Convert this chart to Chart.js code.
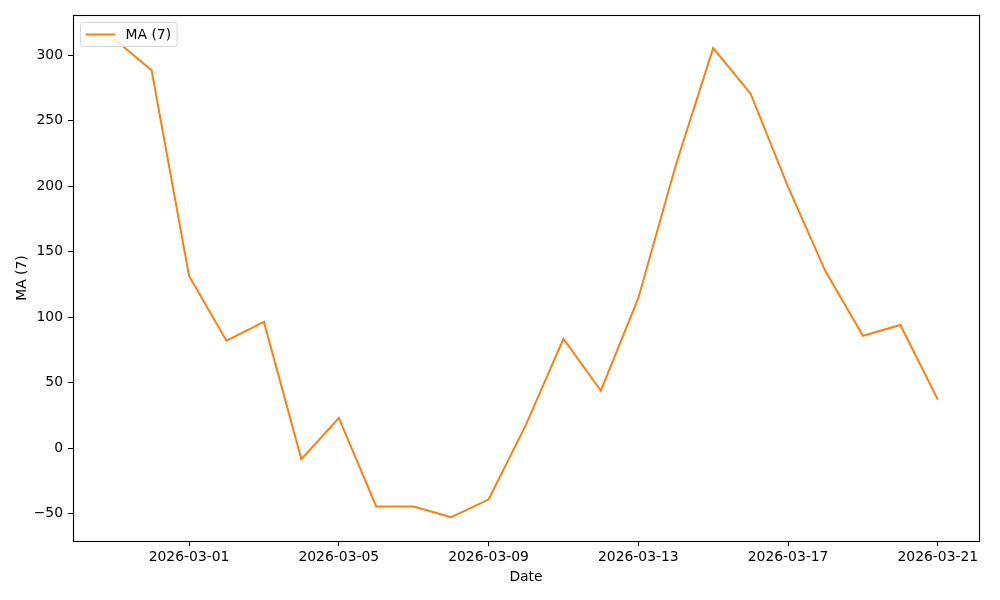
<!DOCTYPE html>
<html>
<head>
<meta charset="utf-8">
<script src="https://cdn.jsdelivr.net/npm/chart.js@4.4.1/dist/chart.umd.min.js"></script>
<style>
  html, body { margin: 0; padding: 0; background: #fff; }
  canvas { display: block; }
</style>
</head>
<body>
<canvas id="c" width="1000" height="600"></canvas>
<script>
const dates = [
  '2026-02-27','2026-02-28','2026-03-01','2026-03-02','2026-03-03','2026-03-04',
  '2026-03-05','2026-03-06','2026-03-07','2026-03-08','2026-03-09','2026-03-10',
  '2026-03-11','2026-03-12','2026-03-13','2026-03-14','2026-03-15','2026-03-16',
  '2026-03-17','2026-03-18','2026-03-19','2026-03-20','2026-03-21'
];
const maValues = [
  312.5, 288.5, 131.5, 82, 96.4, -8.5,
  23, -44.6, -44.6, -52.7, -39.3, 17.9,
  83.5, 43.8, 114.5, 216, 305.5, 270.7,
  199.5, 135, 85.8, 94, 37
];
const xTickLabels = ['2026-03-01','2026-03-05','2026-03-09','2026-03-13','2026-03-17','2026-03-21'];
const yTickValues = [-50, 0, 50, 100, 150, 200, 250, 300];
const seriesLabel = 'MA (7)';
const xTitle = 'Date';
const yTitle = 'MA (7)';

const DAY = 86400000;
const base = Date.parse(dates[0] + 'T00:00:00Z');
const dayIndex = d => Math.round((Date.parse(d + 'T00:00:00Z') - base) / DAY);
const points = dates.map((d, i) => ({ x: dayIndex(d), y: maValues[i] }));
const span = dayIndex(dates[dates.length - 1]);
const xMargin = span * 0.05;
const yMinV = Math.min(...maValues), yMaxV = Math.max(...maValues);
const yMargin = (yMaxV - yMinV) * 0.05;

const FONT = 'DejaVu Sans';
const FS = 13.9;

const framePlugin = {
  id: 'frame',
  afterDatasetsDraw(chart) {
    const { ctx, chartArea: a } = chart;
    ctx.save();
    ctx.strokeStyle = '#000';
    ctx.lineWidth = 1.1;
    ctx.strokeRect(Math.round(a.left) + 0.5, Math.round(a.top) + 0.5,
                   Math.round(a.right - a.left), Math.round(a.bottom - a.top));
    ctx.restore();
  }
};

const legendPlugin = {
  id: 'mplLegend',
  afterDraw(chart) {
    const { ctx, chartArea: a } = chart;
    const ds = chart.data.datasets[0];
    ctx.save();
    ctx.font = FS + 'px "' + FONT + '"';
    const tw = ctx.measureText(ds.label).width;
    const x = a.left + 7.5, y = a.top + 7.5;
    const w = 45 + tw + 6, h = 24;
    const r = 3;
    ctx.beginPath();
    ctx.moveTo(x + r, y);
    ctx.lineTo(x + w - r, y); ctx.quadraticCurveTo(x + w, y, x + w, y + r);
    ctx.lineTo(x + w, y + h - r); ctx.quadraticCurveTo(x + w, y + h, x + w - r, y + h);
    ctx.lineTo(x + r, y + h); ctx.quadraticCurveTo(x, y + h, x, y + h - r);
    ctx.lineTo(x, y + r); ctx.quadraticCurveTo(x, y, x + r, y);
    ctx.closePath();
    ctx.fillStyle = 'rgba(255,255,255,0.8)';
    ctx.fill();
    ctx.strokeStyle = '#d6d6d6';
    ctx.lineWidth = 1;
    ctx.stroke();
    ctx.beginPath();
    ctx.strokeStyle = ds.borderColor;
    ctx.lineWidth = ds.borderWidth;
    ctx.moveTo(x + 5, y + h / 2);
    ctx.lineTo(x + 35, y + h / 2);
    ctx.stroke();
    ctx.fillStyle = '#000';
    ctx.textBaseline = 'middle';
    ctx.fillText(ds.label, x + 45, y + h / 2 + 0.5);
    ctx.restore();
  }
};

new Chart(document.getElementById('c'), {
  type: 'line',
  data: {
    datasets: [{
      label: seriesLabel,
      data: points,
      borderColor: '#ff7f0e',
      backgroundColor: '#ff7f0e',
      borderWidth: 2,
      pointRadius: 0,
      tension: 0,
      fill: false
    }]
  },
  options: {
    responsive: false,
    animation: false,
    devicePixelRatio: 1,
    layout: { padding: { top: 15, right: 21, left: 0, bottom: 0 } },
    plugins: { legend: { display: false }, tooltip: { enabled: false } },
    scales: {
      x: {
        type: 'linear',
        min: -xMargin,
        max: span + xMargin,
        afterFit(s) { s.height = 59; },
        afterBuildTicks(s) { s.ticks = xTickLabels.map(l => ({ value: dayIndex(l) })); },
        grid: { drawOnChartArea: false, drawTicks: true, tickLength: 5, tickColor: '#000', tickWidth: 1 },
        border: { display: false },
        ticks: {
          color: '#000', font: { family: FONT, size: FS }, padding: 3,
          maxRotation: 0, autoSkip: false,
          callback: (v) => { const i = xTickLabels.findIndex(l => dayIndex(l) === v); return i >= 0 ? xTickLabels[i] : ''; }
        },
        title: { display: true, text: xTitle, color: '#000', font: { family: FONT, size: FS }, padding: { top: 4, bottom: 14 } }
      },
      y: {
        type: 'linear',
        min: yMinV - yMargin,
        max: yMaxV + yMargin,
        afterFit(s) { s.width = 73; },
        afterBuildTicks(s) { s.ticks = yTickValues.map(v => ({ value: v })); },
        grid: { drawOnChartArea: false, drawTicks: true, tickLength: 5, tickColor: '#000', tickWidth: 1 },
        border: { display: false },
        ticks: { color: '#000', font: { family: FONT, size: FS }, padding: 5, callback: v => (v < 0 ? '\u2212' + Math.abs(v) : String(v)) },
        title: { display: true, text: yTitle, color: '#000', font: { family: FONT, size: FS }, padding: { top: 14, bottom: 0 } }
      }
    }
  },
  plugins: [framePlugin, legendPlugin]
});
</script>
</body>
</html>
